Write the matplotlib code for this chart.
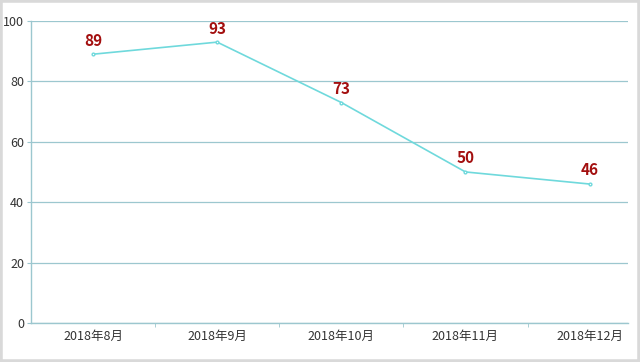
import matplotlib
matplotlib.use("Agg")
import matplotlib.pyplot as plt
from matplotlib.patches import Rectangle
from matplotlib.ticker import FixedLocator

plt.rcParams['font.family'] = ['Noto Sans CJK SC', 'DejaVu Sans']

months = ["2018年8月", "2018年9月", "2018年10月", "2018年11月", "2018年12月"]
values = [89, 93, 73, 50, 46]

axis_color = "#9cc7cf"
line_color = "#6fd9dc"
label_color = "#a30f0f"

fig = plt.figure(figsize=(6.4, 3.62), dpi=100)
ax = fig.add_axes([0.0484, 0.108, 0.933, 0.834])

x = list(range(len(months)))
ax.plot(x, values, color=line_color, lw=1.2, marker="o", ms=2, mfc="white",
        mec=line_color, zorder=3)
for xi, v in zip(x, values):
    ax.annotate(str(v), (xi, v), xytext=(0, 4), textcoords="offset points",
                ha="center", va="bottom", color=label_color,
                fontsize=11, fontweight="bold")

ax.set_xlim(-0.5, 4.31)
ax.set_ylim(0, 100)
ax.set_yticks([0, 20, 40, 60, 80, 100])
ax.set_xticks(x)
ax.set_xticklabels(months)
ax.xaxis.set_minor_locator(FixedLocator([0.5, 1.5, 2.5, 3.5]))
ax.tick_params(axis="x", which="major", length=0, pad=5, labelsize=9, labelcolor="#333333")
ax.tick_params(axis="x", which="minor", length=3, color=axis_color)
ax.tick_params(axis="y", length=3, color=axis_color, labelsize=9, labelcolor="#333333", pad=2)

ax.grid(axis="y", color=axis_color, lw=0.9)
ax.set_axisbelow(True)
for side in ["top", "right"]:
    ax.spines[side].set_visible(False)
for side in ["left", "bottom"]:
    ax.spines[side].set_color(axis_color)
    ax.spines[side].set_linewidth(1.0)

fig.patches.append(Rectangle((0, 0), 1, 1, transform=fig.transFigure,
                             fill=False, edgecolor="#d9d9d9", lw=4))

fig.savefig("out.png", dpi=100)
